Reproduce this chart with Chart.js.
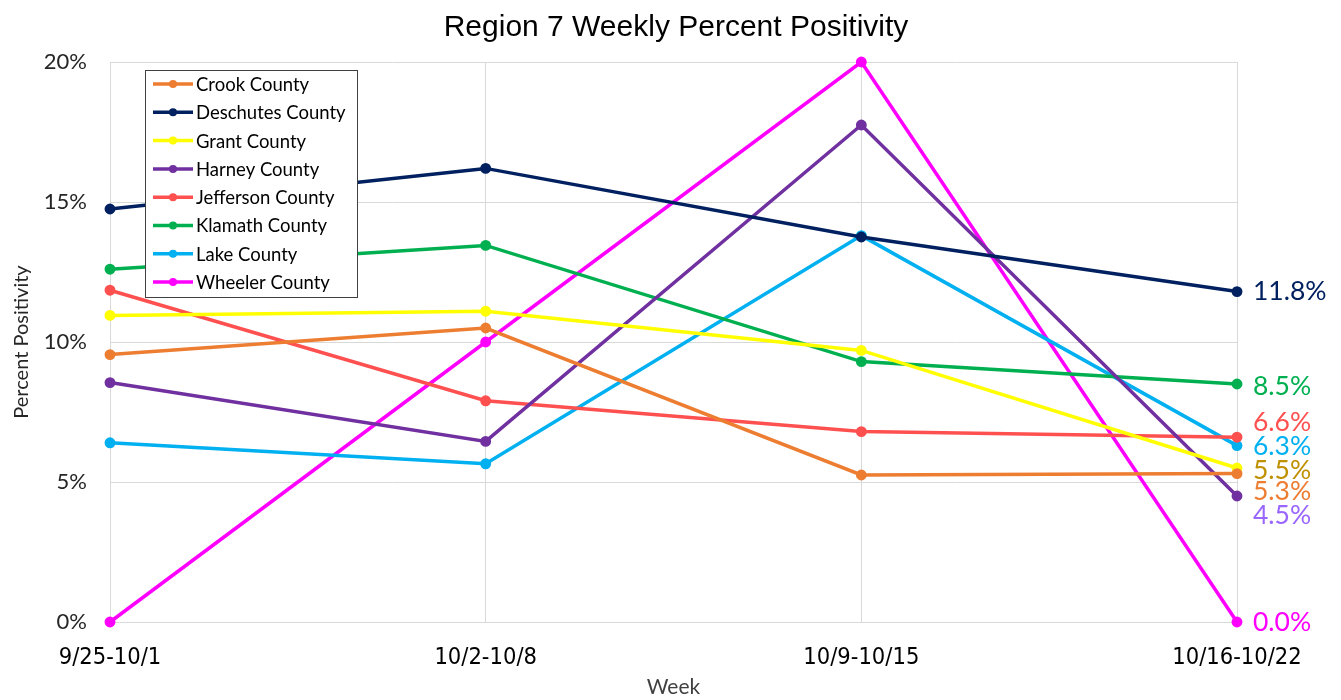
<!DOCTYPE html>
<html>
<head>
<meta charset="utf-8">
<script src="https://cdn.jsdelivr.net/npm/chart.js@4.4.0/dist/chart.umd.min.js"></script>
<style>
  html, body { margin: 0; padding: 0; background: #ffffff; }
  #wrap { width: 1341px; height: 700px; position: relative; }
</style>
</head>
<body>
<div id="wrap"><canvas id="positivityChart"></canvas></div>
<script>
// Données (pourcentages)
var weeks = ['9/25-10/1', '10/2-10/8', '10/9-10/15', '10/16-10/22'];
var counties = ['Crook County', 'Deschutes County', 'Grant County', 'Harney County',
                'Jefferson County', 'Klamath County', 'Lake County', 'Wheeler County'];
var crook = [9.55, 10.5, 5.25, 5.3];
var deschutes = [14.75, 16.2, 13.75, 11.8];
var grant = [10.95, 11.1, 9.7, 5.5];
var harney = [8.55, 6.45, 17.75, 4.5];
var jefferson = [11.85, 7.9, 6.8, 6.6];
var klamath = [12.6, 13.45, 9.3, 8.5];
var lake = [6.4, 5.65, 13.8, 6.3];
var wheeler = [0, 10, 20, 0];
var yTicks = [0, 5, 10, 15, 20];

var lineColors = ['#ED7D31', '#002060', '#FFFF00', '#7030A0', '#FF5050', '#00B050', '#00B0F0', '#FF00FF'];
var labelColors = ['#ED7D31', '#002060', '#BF9000', '#9966FF', '#FF5050', '#00B050', '#00B0F0', '#FF00FF'];
// petit décalage vertical des étiquettes de fin pour éviter les chevauchements
var labelNudge = [18, 0, 2, 19, -15, 2, 1, 0];

var series = [crook, deschutes, grant, harney, jefferson, klamath, lake, wheeler];

var datasets = series.map(function(values, i) {
    return {
        label: counties[i],
        data: values,
        borderColor: lineColors[i],
        backgroundColor: lineColors[i],
        pointBackgroundColor: lineColors[i],
        pointBorderColor: lineColors[i],
        borderWidth: 3.5,
        pointRadius: 3.7,
        pointHoverRadius: 3.7,
        tension: 0,
        clip: false
    };
});

// Titre, légende encadrée et étiquettes de fin dessinés à la main
var customDraw = {
    id: 'customDraw',
    afterDraw: function(chart) {
        var ctx = chart.ctx;
        var area = chart.chartArea;
        ctx.save();

        // titre
        ctx.fillStyle = '#000000';
        ctx.font = '30px "Liberation Sans", Arial, sans-serif';
        ctx.textAlign = 'center';
        ctx.textBaseline = 'middle';
        ctx.fillText('Region 7 Weekly Percent Positivity', 676, 28);

        // légende
        var lx = 145, ly = 70, lw = 212, lh = 227;
        ctx.fillStyle = '#ffffff';
        ctx.fillRect(lx, ly, lw, lh);
        ctx.strokeStyle = '#404040';
        ctx.lineWidth = 1;
        ctx.strokeRect(lx + 0.5, ly + 0.5, lw, lh);
        ctx.font = '18.5px Lato, "Open Sans", sans-serif';
        ctx.textAlign = 'left';
        chart.data.datasets.forEach(function(ds, i) {
            var y = 84 + i * 28.3;
            ctx.strokeStyle = ds.borderColor;
            ctx.lineWidth = 3.5;
            ctx.beginPath();
            ctx.moveTo(153, y);
            ctx.lineTo(193, y);
            ctx.stroke();
            ctx.fillStyle = ds.borderColor;
            ctx.beginPath();
            ctx.arc(173, y, 4, 0, Math.PI * 2);
            ctx.fill();
            ctx.fillStyle = '#000000';
            ctx.fillText(ds.label, 196, y + 1);
        });

        // étiquettes de la dernière semaine
        var yScale = chart.scales.y;
        ctx.font = '26.5px Lato, "Open Sans", sans-serif';
        chart.data.datasets.forEach(function(ds, i) {
            var last = ds.data[ds.data.length - 1];
            var y = yScale.getPixelForValue(last) + labelNudge[i];
            ctx.fillStyle = labelColors[i];
            ctx.fillText(last.toFixed(1) + '%', area.right + 16, y);
        });
        ctx.restore();
    }
};

var ctx = document.getElementById('positivityChart').getContext('2d');
var positivityChart = new Chart(ctx, {
    type: 'line',
    data: {
        labels: weeks,
        datasets: datasets
    },
    options: {
        responsive: true,
        maintainAspectRatio: false,
        animation: false,
        layout: {
            padding: { top: 62, right: 104, left: 0, bottom: 0 }
        },
        plugins: {
            legend: { display: false },
            title: { display: false },
            tooltip: { enabled: false }
        },
        scales: {
            x: {
                offset: false,
                grid: { color: '#d9d9d9', lineWidth: 1, drawTicks: false },
                border: { color: '#d9d9d9' },
                ticks: {
                    color: '#000000',
                    padding: 22,
                    maxRotation: 0,
                    autoSkip: false,
                    font: { family: '"Liberation Sans Narrow", "DejaVu Sans Condensed", Lato, sans-serif', size: 23.5 }
                },
                title: {
                    display: true,
                    text: 'Week',
                    color: '#404040',
                    padding: { top: 0, bottom: 0 },
                    font: { family: 'Lato, "Open Sans", sans-serif', size: 21 }
                },
                afterFit: function(scale) { scale.height = 78; }
            },
            y: {
                min: 0,
                max: 20,
                grid: { color: '#d9d9d9', lineWidth: 1, drawTicks: false },
                border: { color: '#d9d9d9' },
                afterBuildTicks: function(scale) {
                    scale.ticks = yTicks.map(function(v) { return { value: v }; });
                },
                ticks: {
                    color: '#262626',
                    padding: 23,
                    font: { family: 'Lato, "Open Sans", sans-serif', size: 22 },
                    callback: function(value) { return value + '%'; }
                },
                title: {
                    display: true,
                    text: 'Percent Positivity',
                    color: '#262626',
                    padding: { top: 10, bottom: 0 },
                    font: { family: 'Lato, "Open Sans", sans-serif', size: 20 }
                },
                afterFit: function(scale) { scale.width = 110; }
            }
        }
    },
    plugins: [customDraw]
});
</script>
</body>
</html>
